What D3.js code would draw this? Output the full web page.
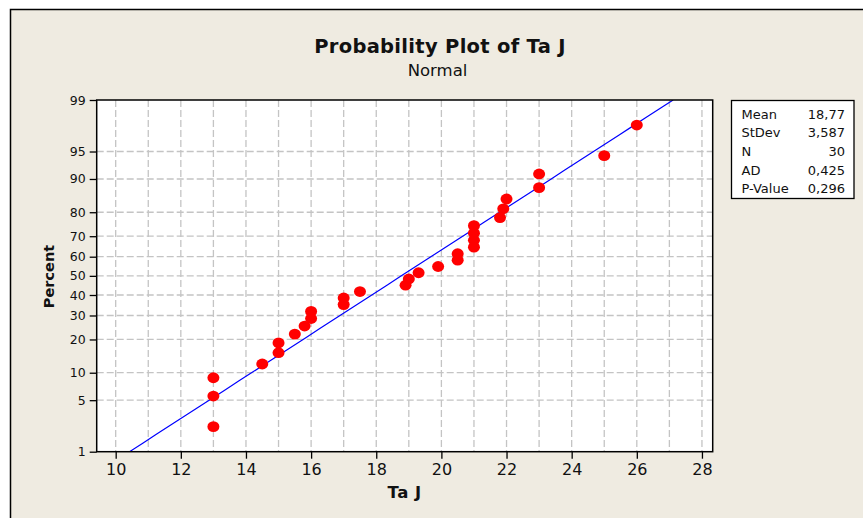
<!DOCTYPE html>
<html><head><meta charset="utf-8">
<script src="https://cdn.jsdelivr.net/npm/d3@7"></script>
<style>
html,body{margin:0;padding:0;background:#fff;}
svg{display:block;}
text{font-family:"DejaVu Sans",Verdana,sans-serif;fill:#111;}
</style></head>
<body>
<svg id="c" width="863" height="518"></svg>
<script>
// ---- data ----
const taJ = [13, 13, 13, 14.5, 15, 15, 15.5, 15.8, 16, 16, 17, 17, 17.5, 18.9, 19, 19.3, 19.9, 20.5, 20.5, 21, 21, 21, 21, 21.8, 21.9, 22, 23, 23, 25, 26];
const fitMean = 18.77;
const fitStDev = 3.587;
const xTicks = [10, 12, 14, 16, 18, 20, 22, 24, 26, 28];
const xGrid = [10, 11, 12, 13, 14, 15, 16, 17, 18, 19, 20, 21, 22, 23, 24, 25, 26, 27, 28];
const yTicks = [1, 5, 10, 20, 30, 40, 50, 60, 70, 80, 90, 95, 99];
const statLabels = ["Mean", "StDev", "N", "AD", "P-Value"];
const statValues = ["18,77", "3,587", "30", "0,425", "0,296"];

// inverse normal CDF (Acklam)
function probit(p){
  const a=[-3.969683028665376e+01,2.209460984245205e+02,-2.759285104469687e+02,1.383577518672690e+02,-3.066479806614716e+01,2.506628277459239e+00];
  const b=[-5.447609879822406e+01,1.615858368580409e+02,-1.556989798598866e+02,6.680131188771972e+01,-1.328068155288572e+01];
  const c=[-7.784894002430293e-03,-3.223964580411365e-01,-2.400758277161838e+00,-2.549732539343734e+00,4.374664141464968e+00,2.938163982698783e+00];
  const d=[7.784695709041462e-03,3.224671290700398e-01,2.445134137142996e+00,3.754408661907416e+00];
  const pl=0.02425, ph=1-pl; let q,r;
  if(p<pl){q=Math.sqrt(-2*Math.log(p));return (((((c[0]*q+c[1])*q+c[2])*q+c[3])*q+c[4])*q+c[5])/((((d[0]*q+d[1])*q+d[2])*q+d[3])*q+1);}
  if(p<=ph){q=p-0.5;r=q*q;return (((((a[0]*r+a[1])*r+a[2])*r+a[3])*r+a[4])*r+a[5])*q/(((((b[0]*r+b[1])*r+b[2])*r+b[3])*r+b[4])*r+1);}
  q=Math.sqrt(-2*Math.log(1-p));return -(((((c[0]*q+c[1])*q+c[2])*q+c[3])*q+c[4])*q+c[5])/((((d[0]*q+d[1])*q+d[2])*q+d[3])*q+1);
}

const svg = d3.select("#c");
const W=863,H=518;
const L=96.7, R=712.7, T=100, B=451.7;

// background frame
svg.append("rect").attr("x",10.5).attr("y",9.5).attr("width",W).attr("height",H)
  .attr("fill","#EFEBE1").attr("stroke","#000").attr("stroke-width",1.5);

const x = d3.scaleLinear().domain([9.417, 28.33]).range([L, R]);
// y: linear in z
const y0 = d3.scaleLinear().domain([probit(0.01), probit(0.99)]).range([B, T]);
const y = p => y0(probit(p/100));

// plot area
svg.append("rect").attr("x",L).attr("y",T).attr("width",R-L).attr("height",B-T).attr("fill","#fff");

const grid = svg.append("g").attr("stroke","#c4c4c4").attr("stroke-width",1.3).attr("stroke-dasharray","7,3");
grid.selectAll("line.v").data(xGrid).join("line")
  .attr("x1",d=>x(d)).attr("x2",d=>x(d)).attr("y1",T).attr("y2",B);
grid.selectAll("line.h").data(yTicks.filter(d=>d>1&&d<99)).join("line")
  .attr("x1",L).attr("x2",R).attr("y1",d=>y(d)).attr("y2",d=>y(d));

// clip
svg.append("clipPath").attr("id","pc").append("rect").attr("x",L).attr("y",T).attr("width",R-L).attr("height",B-T);

// fit line
const zLo = probit(0.01), zHi = probit(0.99);
const fitPts = d3.range(0, 41).map(i => { const z = zLo + (zHi - zLo) * i / 40; return [fitMean + fitStDev * z, z]; });
svg.append("path").attr("clip-path","url(#pc)")
  .attr("d", d3.line().x(d=>x(d[0])).y(d=>y0(d[1]))(fitPts))
  .attr("fill","none").attr("stroke","#0000FF").attr("stroke-width",1.2);

// points with median ranks
const n = taJ.length;
const pts = taJ.slice().sort((a,b)=>a-b).map((v,i)=>({v, p: 100*(i+1-0.3)/(n+0.4)}));
svg.append("g").selectAll("ellipse").data(pts).join("ellipse")
  .attr("cx",d=>x(d.v)).attr("cy",d=>y(d.p)).attr("rx",6).attr("ry",5.4).attr("fill","#FF0000");

// axes
const xAxis = d3.axisBottom(x).tickValues(xTicks).tickSize(7).tickPadding(5);
const gx = svg.append("g").attr("transform",`translate(0,${B})`).call(xAxis);
gx.select(".domain").remove();
gx.selectAll("line").attr("stroke","#000").attr("stroke-width",1.3);
gx.selectAll("text").attr("font-size",16).attr("fill","#111").attr("font-family","DejaVu Sans");

const yAxis = d3.axisLeft(y0).tickValues(yTicks.map(p=>probit(p/100))).tickFormat((d,i)=>yTicks[i]).tickSize(7).tickPadding(4);
const gy = svg.append("g").attr("transform",`translate(${L},0)`).call(yAxis);
gy.select(".domain").remove();
gy.selectAll("line").attr("stroke","#000").attr("stroke-width",1.3);
gy.selectAll("text").attr("font-size",12.5).attr("fill","#111").attr("font-family","DejaVu Sans");

// plot frame
svg.append("rect").attr("x",L).attr("y",T).attr("width",R-L).attr("height",B-T)
  .attr("fill","none").attr("stroke","#000").attr("stroke-width",1.5);

// titles
svg.append("text").attr("x",440).attr("y",53).attr("text-anchor","middle")
  .attr("font-size",19.5).attr("font-weight","bold").attr("letter-spacing",0.3).text("Probability Plot of Ta J");
svg.append("text").attr("x",437.5).attr("y",76).attr("text-anchor","middle")
  .attr("font-size",16.5).text("Normal");
svg.append("text").attr("x",(L+R)/2).attr("y",498).attr("text-anchor","middle")
  .attr("font-size",16.5).attr("font-weight","bold").attr("letter-spacing",0.5).text("Ta J");
svg.append("text").attr("transform","translate(54,276.5) rotate(-90)").attr("text-anchor","middle")
  .attr("font-size",14.5).attr("font-weight","bold").text("Percent");

// legend box
const lg = svg.append("g");
lg.append("rect").attr("x",731.5).attr("y",100.5).attr("width",122.5).attr("height",98)
  .attr("fill","#fff").attr("stroke","#000").attr("stroke-width",1.3);
lg.selectAll("text.l").data(statLabels).join("text").attr("class","l")
  .attr("x",741.5).attr("y",(d,i)=>118.5+i*18.7).attr("font-size",13).text(d=>d);
lg.selectAll("text.v").data(statValues).join("text").attr("class","v")
  .attr("x",845).attr("y",(d,i)=>118.5+i*18.7).attr("font-size",13).attr("text-anchor","end").text(d=>d);
</script>
</body></html>
